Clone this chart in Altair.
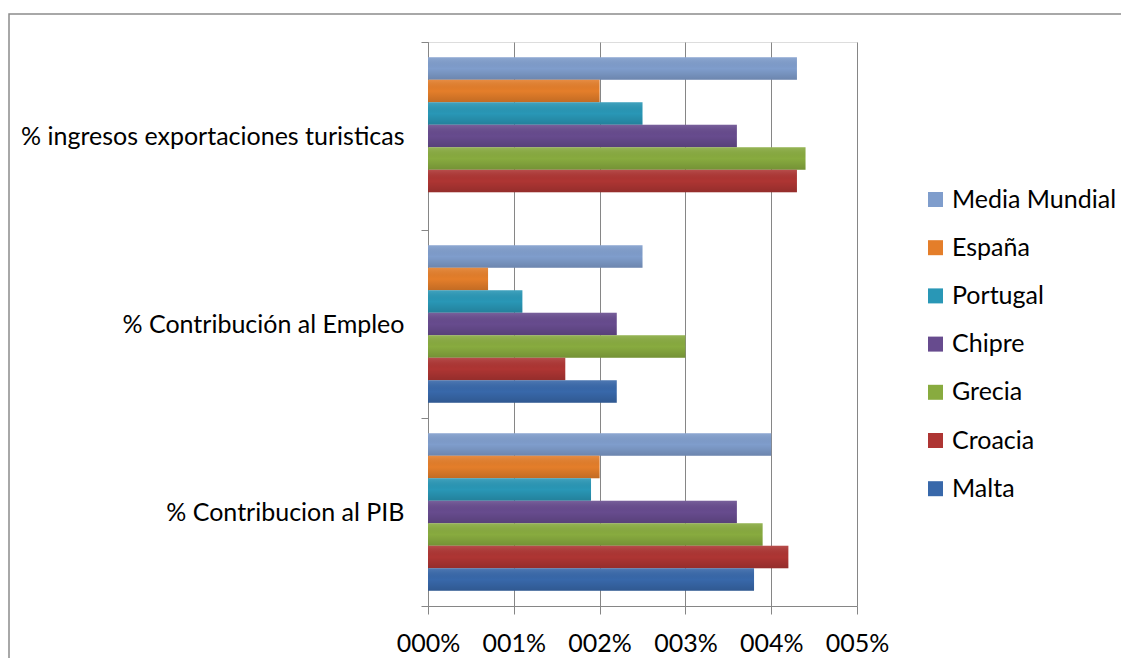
import altair as alt
import pandas as pd

categories = ["% ingresos exportaciones turisticas", "% Contribución al Empleo", "% Contribucion al PIB"]
series = ["Media Mundial", "España", "Portugal", "Chipre", "Grecia", "Croacia", "Malta"]
colors = ["#7f9dcc", "#e47e2a", "#2997b6", "#674b8e", "#88ab3f", "#ae3533", "#3868aa"]

media_mundial = [4.3, 2.5, 4.0]
espana = [2.0, 0.7, 2.0]
portugal = [2.5, 1.1, 1.9]
chipre = [3.6, 2.2, 3.6]
grecia = [4.4, 3.0, 3.9]
croacia = [4.3, 1.6, 4.2]
malta = [None, 2.2, 3.8]
tick_values = [0, 1, 2, 3, 4, 5]

values_by_series = [media_mundial, espana, portugal, chipre, grecia, croacia, malta]
rows = []
for s, vals in zip(series, values_by_series):
    for c, v in zip(categories, vals):
        if v is not None:
            rows.append({"category": c, "series": s, "value": v})
df = pd.DataFrame(rows)

FONT = "Lato"
FS = 25
GRAY = "#868686"

x_enc = alt.X(
    "value:Q",
    scale=alt.Scale(domain=[0, 5], nice=False),
    axis=alt.Axis(
        values=tick_values, labelExpr="'00' + datum.value + '%'", title=None,
        grid=True, gridColor=GRAY, domainColor=GRAY, tickColor=GRAY,
        tickSize=8, labelPadding=17, labelFontSize=FS, labelFont=FONT,
        labelColor="black", labelOverlap=False, labelFlush=False,
    ),
)
y_enc = alt.Y(
    "category:N", sort=categories,
    scale=alt.Scale(paddingInner=0, paddingOuter=0),
    axis=alt.Axis(
        title=None, tickBand="extent", domainColor=GRAY, tickColor=GRAY,
        tickSize=7, labelPadding=17, labelFontSize=FS, labelFont=FONT,
        labelColor="black", labelLimit=500,
    ),
)
yoff_enc = alt.YOffset(
    "series:N", sort=series,
    scale=alt.Scale(domain=series, paddingInner=0, paddingOuter=0.678),
)

bars = alt.Chart(df).mark_bar().encode(
    x=x_enc, y=y_enc, yOffset=yoff_enc,
    color=alt.Color(
        "series:N", scale=alt.Scale(domain=series, range=colors),
        legend=alt.Legend(
            title=None, orient="none", legendX=495, legendY=145,
            symbolType="square", symbolSize=225, symbolStrokeWidth=0,
            labelFontSize=FS, labelFont=FONT, labelColor="black",
            rowPadding=22.2, labelOffset=4, labelLimit=300,
        ),
    ),
)

shade = alt.Chart(df).mark_bar(
    color=alt.Gradient(
        gradient="linear", x1=0, y1=0, x2=0, y2=1,
        stops=[
            alt.GradientStop(color="rgba(255,255,255,0.12)", offset=0),
            alt.GradientStop(color="rgba(0,0,0,0.0)", offset=0.5),
            alt.GradientStop(color="rgba(0,0,0,0.15)", offset=1),
        ],
    )
).encode(x="value:Q", y=alt.Y("category:N", sort=categories), yOffset=alt.YOffset("series:N", sort=series))

border = alt.Chart(alt.Data(values=[{}])).mark_rect(
    fill=None, stroke="#8c8c8c", strokeWidth=1.5
).encode(
    x=alt.value(-419), x2=alt.value(800), y=alt.value(-28), y2=alt.value(700)
)

chart = alt.layer(border, bars, shade).properties(
    width=429, height=564,
    autosize=alt.AutoSizeParams(type="none"),
    padding={"left": 420, "top": 34, "right": 264, "bottom": 52},
).configure_view(stroke=None).configure(background="white")

chart.save("out.html", embed_options={"renderer": "svg", "actions": False})
